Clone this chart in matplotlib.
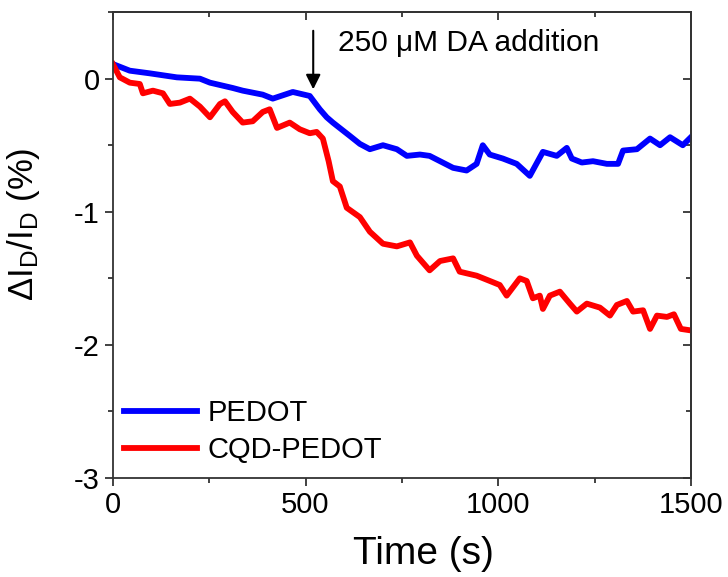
import numpy as np
import matplotlib
matplotlib.use("Agg")
import matplotlib.pyplot as plt
from matplotlib.ticker import MultipleLocator

plt.rcParams['font.family'] = ['Liberation Sans', 'DejaVu Sans']
plt.rcParams['mathtext.default'] = 'regular'
plt.rcParams['axes.unicode_minus'] = False

# PEDOT trace (time in s, relative change in %)
t_pedot = [0, 44, 96, 166, 226, 252, 311, 337, 389, 415, 467, 511, 537, 555,
           571, 615, 641, 667, 701, 737, 763, 797, 822, 883, 918, 944, 960,
           978, 1012, 1048, 1082, 1116, 1152, 1178, 1191, 1217, 1246, 1282,
           1311, 1324, 1360, 1394, 1420, 1446, 1479, 1500]
v_pedot = [0.11, 0.06, 0.04, 0.01, 0.0, -0.03, -0.07, -0.09, -0.12, -0.15,
           -0.10, -0.13, -0.23, -0.29, -0.33, -0.43, -0.49, -0.53, -0.50,
           -0.53, -0.58, -0.57, -0.58, -0.67, -0.69, -0.64, -0.50, -0.57,
           -0.60, -0.64, -0.73, -0.55, -0.58, -0.52, -0.60, -0.63, -0.62,
           -0.64, -0.64, -0.54, -0.53, -0.45, -0.50, -0.44, -0.50, -0.44]

# CQD-PEDOT trace
t_cqd = [0, 18, 44, 70, 78, 104, 130, 148, 174, 200, 226, 252, 278, 291, 311,
         337, 363, 389, 407, 426, 459, 485, 511, 529, 545, 560, 571, 589, 607,
         641, 667, 701, 737, 771, 789, 822, 849, 883, 900, 944, 987, 1004,
         1022, 1056, 1074, 1090, 1108, 1116, 1134, 1160, 1186, 1204, 1230,
         1264, 1290, 1308, 1334, 1350, 1376, 1394, 1412, 1438, 1456, 1474,
         1497]
v_cqd = [0.11, 0.01, -0.03, -0.04, -0.11, -0.09, -0.11, -0.19, -0.18, -0.15,
         -0.21, -0.29, -0.19, -0.17, -0.25, -0.33, -0.32, -0.25, -0.23, -0.37,
         -0.33, -0.38, -0.41, -0.40, -0.45, -0.62, -0.77, -0.81, -0.97, -1.04,
         -1.15, -1.24, -1.26, -1.23, -1.33, -1.44, -1.37, -1.35, -1.45, -1.48,
         -1.53, -1.55, -1.63, -1.50, -1.52, -1.65, -1.63, -1.73, -1.63, -1.60,
         -1.69, -1.75, -1.69, -1.72, -1.78, -1.70, -1.67, -1.75, -1.74, -1.88,
         -1.78, -1.79, -1.77, -1.88, -1.89]

labels = ['PEDOT', 'CQD-PEDOT']
colors = ['#0000ff', '#ff0000']

fig = plt.figure(figsize=(7.28, 5.77), dpi=100)
ax = fig.add_axes([0.155, 0.1716, 0.794, 0.8074])

ax.plot(t_pedot, v_pedot, color=colors[0], lw=4.2, label=labels[0])
ax.plot(t_cqd, v_cqd, color=colors[1], lw=4.2, label=labels[1])

ax.set_xlim(0, 1500)
ax.set_ylim(-3, 0.5)
ax.xaxis.set_major_locator(MultipleLocator(500))
ax.xaxis.set_minor_locator(MultipleLocator(250))
ax.yaxis.set_major_locator(MultipleLocator(1))
ax.yaxis.set_minor_locator(MultipleLocator(0.5))

for s in ax.spines.values():
    s.set_color('#333333')
    s.set_linewidth(1.3)

ax.tick_params(which='both', direction='out', color='#333333', width=1.3,
               labelsize=21, top=False, right=False)
ax.tick_params(which='major', length=6)
ax.tick_params(which='minor', length=3.5)

# top / right ticks point inward
top = ax.secondary_xaxis('top')
top.xaxis.set_major_locator(MultipleLocator(500))
top.xaxis.set_minor_locator(MultipleLocator(250))
top.tick_params(which='both', direction='in', labeltop=False, color='#333333', width=1.3)
top.tick_params(which='major', length=6)
top.tick_params(which='minor', length=3.5)
right = ax.secondary_yaxis('right')
right.yaxis.set_major_locator(MultipleLocator(1))
right.yaxis.set_minor_locator(MultipleLocator(0.5))
right.tick_params(which='both', direction='in', labelright=False, color='#333333', width=1.3)
right.tick_params(which='major', length=6)
right.tick_params(which='minor', length=3.5)
for sa in (top, right):
    for s in sa.spines.values():
        s.set_color('#333333')
        s.set_linewidth(1.3)

ax.set_xlabel('Time (s)', fontsize=28)
ax.xaxis.set_label_coords(0.538, -0.125)
ax.set_ylabel(r'$\Delta$I$_{D}$/I$_{D}$ (%)', fontsize=25)
ax.yaxis.set_label_coords(-0.123, 0.545)

ax.annotate('', xy=(520, -0.08), xytext=(520, 0.36),
            arrowprops=dict(arrowstyle='-|>', color='black', lw=1.5,
                            mutation_scale=22, shrinkA=0, shrinkB=0))
ax.text(584, 0.27, '250 \u03bcM DA addition', fontsize=21.5, va='center', ha='left')

ax.legend(loc='lower left', bbox_to_anchor=(0.02, 0.03), frameon=False,
          fontsize=21, handlelength=2.5, handletextpad=0.35, labelspacing=0.3,
          borderpad=0, borderaxespad=0)

fig.savefig('out.png', dpi=100)
